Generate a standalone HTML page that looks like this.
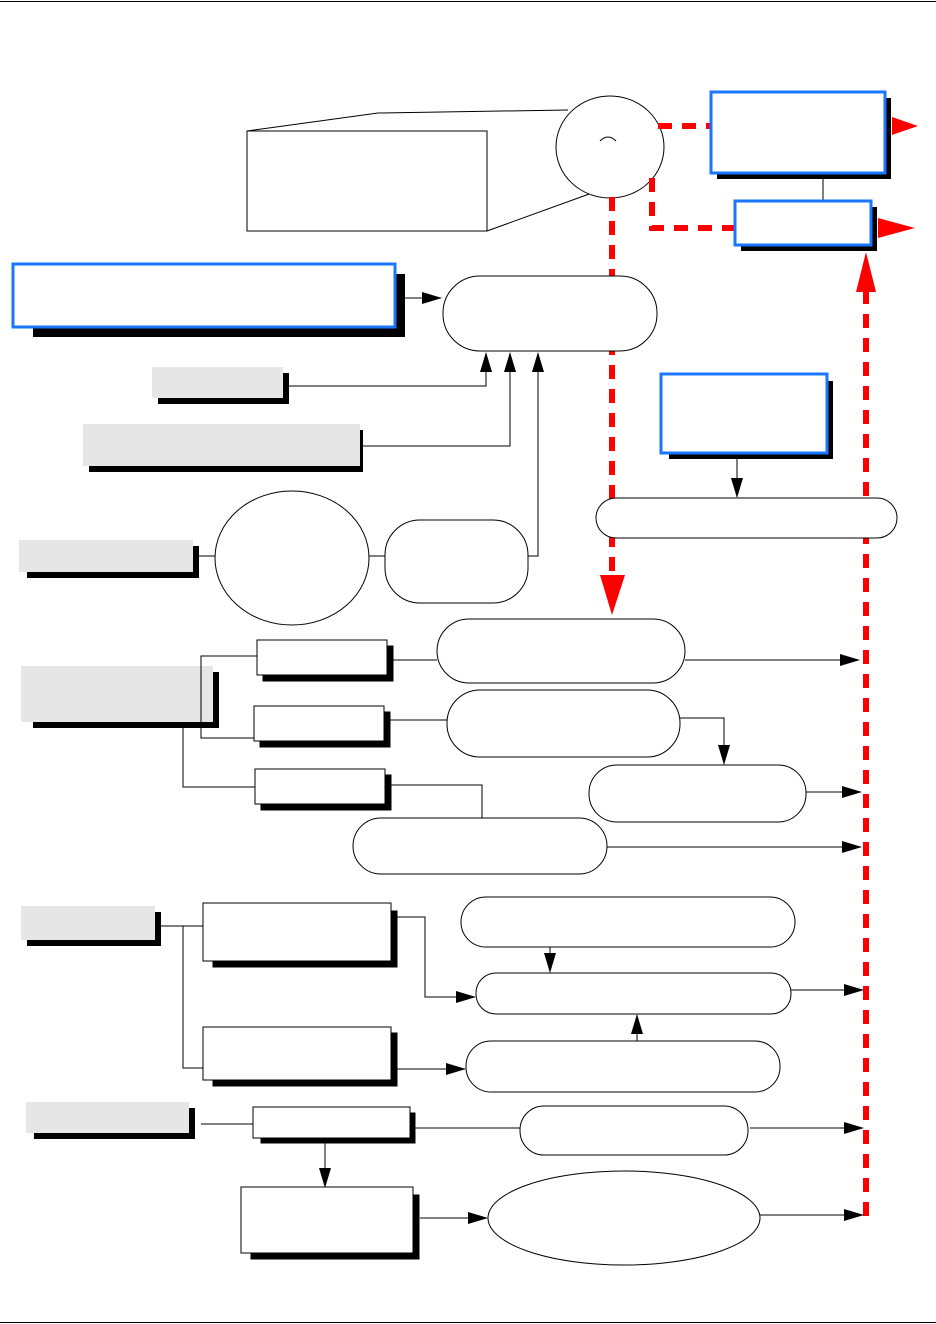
<!DOCTYPE html>
<html><head><meta charset="utf-8"><style>
html,body{margin:0;padding:0;background:#fff}
svg{display:block}
</style></head><body>
<svg width="936" height="1324" viewBox="0 0 936 1324" xmlns="http://www.w3.org/2000/svg">
<defs>
<marker id="a" markerWidth="20" markerHeight="12" refX="19" refY="6" orient="auto" markerUnits="userSpaceOnUse"><path d="M0,0 L20,6 L0,12z" fill="#000"/></marker>
</defs>
<g fill="none" stroke="#000" stroke-width="1">
<line x1="0" y1="1.5" x2="936" y2="1.5"/>
<line x1="0" y1="1322.5" x2="936" y2="1322.5"/>
<rect x="247" y="131" width="240" height="100"/>
<polyline points="247,131 378,113 568,110"/>
<line x1="487" y1="231" x2="592" y2="193"/>
<ellipse cx="610" cy="147" rx="54" ry="51" fill="#fff"/>
<path d="M600,141 Q608,133 616,141"/>
<line x1="823" y1="179" x2="823" y2="200"/>
</g>
<g stroke="#f00" stroke-width="6" fill="none" stroke-dasharray="14,10">
<line x1="658" y1="126" x2="712" y2="126"/>
<polyline points="652,178 652,228 735,228"/>
<line x1="612" y1="197" x2="612" y2="600"/>
<line x1="866" y1="290" x2="866" y2="1218"/>
</g>
<g fill="#f00">
<path d="M600,575 L625,575 L612,615z"/>
<path d="M856,292 L876,292 L866,252z"/>
<path d="M892,117 L918,126 L892,135z"/>
<path d="M878,218 L915,228 L878,238z"/>
</g>
<g>
<rect x="717" y="98" width="174" height="81" fill="#000"/>
<rect x="711" y="92" width="174" height="81" fill="#fff" stroke="#1a75ff" stroke-width="3"/>
<rect x="741" y="207" width="136" height="44" fill="#000"/>
<rect x="735" y="201" width="136" height="44" fill="#fff" stroke="#1a75ff" stroke-width="3"/>
<rect x="33" y="274" width="372" height="63" fill="#000"/>
<rect x="13" y="264" width="382" height="63" fill="#fff" stroke="#1a75ff" stroke-width="3"/>
<rect x="669" y="381" width="164" height="78" fill="#000"/>
<rect x="661" y="374" width="166" height="79" fill="#fff" stroke="#1a75ff" stroke-width="3"/>
</g>
<g>
<rect x="158" y="373" width="131" height="31" fill="#000"/><rect x="152" y="367" width="131" height="31" fill="#e6e6e6"/>
<rect x="89" y="430" width="274" height="42" fill="#000"/><rect x="83" y="424" width="277" height="42" fill="#e6e6e6"/>
<rect x="27" y="546" width="172" height="32" fill="#000"/><rect x="19" y="540" width="174" height="32" fill="#e6e6e6"/>
<rect x="33" y="672" width="186" height="56" fill="#000"/><rect x="21" y="666" width="192" height="56" fill="#e6e6e6"/>
<rect x="27" y="912" width="134" height="34" fill="#000"/><rect x="21" y="906" width="134" height="34" fill="#e6e6e6"/>
<rect x="34" y="1108" width="161" height="31" fill="#000"/><rect x="26" y="1102" width="163" height="31" fill="#e6e6e6"/>
</g>
<g stroke="#000">
<rect x="263" y="646" width="130" height="35" fill="#000"/><rect x="257" y="640" width="130" height="35" fill="#fff"/>
<rect x="260" y="712" width="130" height="35" fill="#000"/><rect x="254" y="706" width="130" height="35" fill="#fff"/>
<rect x="261" y="775" width="130" height="35" fill="#000"/><rect x="255" y="769" width="130" height="35" fill="#fff"/>
<rect x="213" y="911" width="184" height="56" fill="#000"/><rect x="203" y="903" width="188" height="58" fill="#fff"/>
<rect x="213" y="1033" width="184" height="53" fill="#000"/><rect x="203" y="1027" width="188" height="53" fill="#fff"/>
<rect x="261" y="1113" width="154" height="30" fill="#000"/><rect x="253" y="1107" width="157" height="31" fill="#fff"/>
<rect x="251" y="1195" width="168" height="64" fill="#000"/><rect x="241" y="1187" width="172" height="66" fill="#fff"/>
</g>
<g fill="#fff" stroke="#000">
<rect x="443" y="276" width="214" height="75" rx="37"/>
<ellipse cx="292" cy="558" rx="77" ry="67"/>
<rect x="385" y="520" width="143" height="83" rx="35"/>
<rect x="596" y="498" width="301" height="40" rx="20"/>
<rect x="437" y="619" width="248" height="64" rx="32"/>
<rect x="447" y="690" width="233" height="67" rx="33"/>
<rect x="589" y="765" width="217" height="57" rx="28"/>
<rect x="353" y="818" width="254" height="56" rx="28"/>
<rect x="461" y="897" width="334" height="50" rx="25"/>
<rect x="476" y="973" width="315" height="41" rx="20"/>
<rect x="466" y="1041" width="314" height="51" rx="25"/>
<rect x="520" y="1106" width="228" height="49" rx="24"/>
<ellipse cx="624" cy="1218" rx="136" ry="47"/>
</g>
<g fill="none" stroke="#000" stroke-width="1">
<line x1="405" y1="298" x2="441" y2="298" marker-end="url(#a)"/>
<polyline points="289,386 486,386 486,353" marker-end="url(#a)"/>
<polyline points="363,446 510,446 510,353" marker-end="url(#a)"/>
<line x1="199" y1="556" x2="215" y2="556"/>
<line x1="369" y1="556" x2="385" y2="556"/>
<polyline points="528,556 538,556 538,353" marker-end="url(#a)"/>
<line x1="737" y1="459" x2="737" y2="497" marker-end="url(#a)"/>
<line x1="685" y1="660" x2="859" y2="660" marker-end="url(#a)"/>
<polyline points="257,656 201,656 201,738 254,738"/>
<polyline points="183,728 183,787 255,787"/>
<line x1="393" y1="660" x2="437" y2="660"/>
<line x1="390" y1="720" x2="447" y2="720"/>
<polyline points="680,718 724,718 724,764" marker-end="url(#a)"/>
<line x1="806" y1="792" x2="861" y2="792" marker-end="url(#a)"/>
<polyline points="391,785 482,785 482,818"/>
<line x1="607" y1="847" x2="861" y2="847" marker-end="url(#a)"/>
<polyline points="161,926 203,926"/>
<polyline points="183,926 183,1068 203,1068"/>
<polyline points="397,917 425,917 425,997 475,997" marker-end="url(#a)"/>
<line x1="550" y1="947" x2="550" y2="972" marker-end="url(#a)"/>
<line x1="791" y1="990" x2="863" y2="990" marker-end="url(#a)"/>
<line x1="637" y1="1041" x2="637" y2="1015" marker-end="url(#a)"/>
<line x1="397" y1="1069" x2="465" y2="1069" marker-end="url(#a)"/>
<line x1="201" y1="1124" x2="253" y2="1124"/>
<line x1="415" y1="1128" x2="520" y2="1128"/>
<line x1="750" y1="1128" x2="863" y2="1128" marker-end="url(#a)"/>
<line x1="325" y1="1143" x2="325" y2="1187" marker-end="url(#a)"/>
<line x1="420" y1="1218" x2="487" y2="1218" marker-end="url(#a)"/>
<line x1="760" y1="1215" x2="863" y2="1215" marker-end="url(#a)"/>
</g>
</svg>
</body></html>
